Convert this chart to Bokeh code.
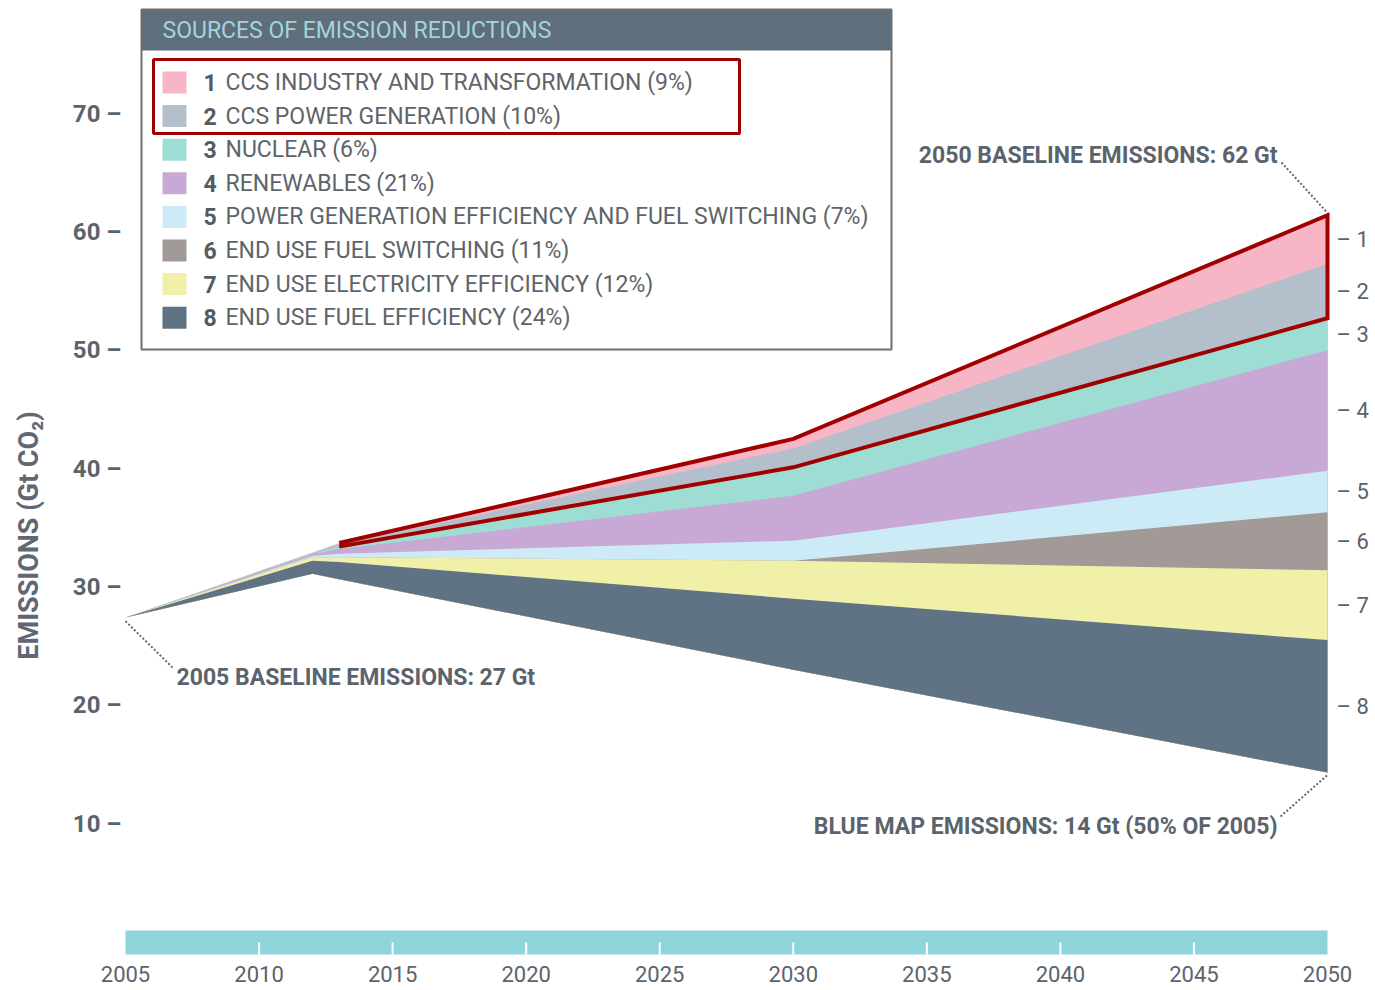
import numpy as np
from bokeh.plotting import figure
from bokeh.models import Range1d
from bokeh.core.properties import value
from bokeh.embed import file_html
from bokeh.resources import INLINE

# ---------------- data (Gt CO2) ----------------
years = [2005, 2012, 2013, 2030, 2050]
blue_map = [27.4, 31.1, 30.65, 23.0, 14.3]          # BLUE Map emissions (bottom of stack)
# reductions, stacked upward from BLUE Map emissions (wedge 8 at bottom ... wedge 1 on top)
w8_end_use_fuel_eff = [0, 1.1, 1.45, 6.0, 11.2]
w7_end_use_elec_eff = [0, 0.3, 0.4, 3.2, 5.9]
w6_end_use_fuel_switch = [0, 0, 0, 0, 4.9]
w5_power_gen_eff = [0, 0.1, 0.3, 1.7, 3.5]
w4_renewables = [0, 0.15, 0.4, 3.8, 10.2]
w3_nuclear = [0, 0.05, 0.2, 2.4, 2.7]
w2_ccs_power = [0, 0.05, 0.2, 1.6, 4.6]
w1_ccs_industry = [0, 0.05, 0.1, 0.8, 4.1]

legend_numbers = ["1", "2", "3", "4", "5", "6", "7", "8"]
legend_labels = [
    "CCS INDUSTRY AND TRANSFORMATION (9%)",
    "CCS POWER GENERATION (10%)",
    "NUCLEAR (6%)",
    "RENEWABLES (21%)",
    "POWER GENERATION EFFICIENCY AND FUEL SWITCHING (7%)",
    "END USE FUEL SWITCHING (11%)",
    "END USE ELECTRICITY EFFICIENCY (12%)",
    "END USE FUEL EFFICIENCY (24%)",
]
colors = ["#F7B6C6", "#B3BFCA", "#9DDDD3", "#C8A9D5", "#CDEBF6", "#A19A97", "#F1F0A9", "#5F7384"]

y_ticks = [10, 20, 30, 40, 50, 60, 70]
x_ticks = [2005, 2010, 2015, 2020, 2025, 2030, 2035, 2040, 2045, 2050]

# ---------------- layout helpers (page pixels -> data) ----------------
W, H = 1375, 990
PPY = (1327 - 125) / 45.0      # px per year
PPG = (823 - 113) / 60.0       # px per Gt

def dx(px):
    return 2005 + (px - 125) / PPY

def dy(py):
    return 70 - (py - 113) / PPG

p = figure(width=W, height=H, output_backend="svg", toolbar_location=None,
           x_range=Range1d(dx(0), dx(W)), y_range=Range1d(dy(H), dy(0)),
           x_axis_location=None, y_axis_location=None, min_border=0,
           outline_line_color=None, background_fill_color="white",
           border_fill_color="white")
p.xgrid.grid_line_color = None
p.ygrid.grid_line_color = None

FONT = value("Roboto")
TXT = "#5B636C"
FS = "23px"

# ---------------- stacked wedges ----------------
wedges_bottom_up = [w8_end_use_fuel_eff, w7_end_use_elec_eff, w6_end_use_fuel_switch,
                    w5_power_gen_eff, w4_renewables, w3_nuclear, w2_ccs_power, w1_ccs_industry]
base = np.array(blue_map, dtype=float)
cums = []
acc = base.copy()
for w in wedges_bottom_up:
    acc = acc + np.array(w, dtype=float)
    cums.append(acc.copy())
# draw from top wedge down so lower wedges overlap upper ones (no seams)
for k in range(7, -1, -1):
    p.varea(x=years, y1=base, y2=cums[k], fill_color=colors[7 - k], fill_alpha=1.0)

total = cums[7]
gray_bottom = cums[5]

# red outline around wedges 1 & 2 (from 2013 onward)
yr = np.array(years)
m = yr >= 2013
xs = list(yr[m]) + [2050] + list(yr[m][::-1])
ys = list(total[m]) + [gray_bottom[-1]] + list(gray_bottom[m][::-1])
p.line(xs, ys, line_color="#A00000", line_width=4, line_join="miter")

# right-side wedge numbers at 2050
lower_edges = [base] + cums[:-1]
mids = [(lower_edges[k][-1] + cums[k][-1]) / 2 for k in range(8)]
p.text(x=[dx(1336)] * 8, y=mids, text=["\u2013 " + legend_numbers[7 - k] for k in range(8)],
       text_font=FONT, text_font_size="22px", text_color=TXT,
       text_align="left", text_baseline="middle")

# ---------------- y axis ----------------
p.text(x=[dx(121)] * len(y_ticks), y=y_ticks, text=[f"{v} \u2013" for v in y_ticks],
       text_font=FONT, text_font_size="24px", text_font_style="bold", text_color=TXT,
       text_align="right", text_baseline="middle")
p.text(x=[dx(28)], y=[dy(535)], text=["EMISSIONS (Gt CO\u2082)"], angle=np.pi / 2,
       text_font=FONT, text_font_size="27px", text_font_style="bold", text_color="#5F6873",
       text_align="center", text_baseline="middle")

# ---------------- x axis bar ----------------
p.quad(left=[x_ticks[0]], right=[x_ticks[-1]], top=[dy(930)], bottom=[dy(954)],
       fill_color="#8ED5DA", line_color=None)
inner = x_ticks[1:-1]
p.segment(x0=inner, x1=inner, y0=[dy(942)] * len(inner), y1=[dy(954)] * len(inner),
          line_color="white", line_width=2)
p.text(x=x_ticks, y=[dy(973)] * len(x_ticks), text=[str(v) for v in x_ticks],
       text_font=FONT, text_font_size="22px", text_color=TXT,
       text_align="center", text_baseline="middle")

# ---------------- annotations ----------------
p.text(x=[dx(1277)], y=[dy(155)], text=["2050 BASELINE EMISSIONS: 62 Gt"],
       text_font=FONT, text_font_size=FS, text_font_style="bold", text_color=TXT,
       text_align="right", text_baseline="middle")
p.line([dx(1281), 2050], [dy(162), total[-1] + 0.2], line_color="#666666", line_width=2, line_dash="2 2")

p.text(x=[dx(176)], y=[dy(677)], text=["2005 BASELINE EMISSIONS: 27 Gt"],
       text_font=FONT, text_font_size=FS, text_font_style="bold", text_color=TXT,
       text_align="left", text_baseline="middle")
p.line([2005, dx(173)], [blue_map[0] - 0.3, dy(668)], line_color="#666666", line_width=2, line_dash="2 2")

p.text(x=[dx(1277)], y=[dy(826)], text=["BLUE MAP EMISSIONS: 14 Gt (50% OF 2005)"],
       text_font=FONT, text_font_size=FS, text_font_style="bold", text_color=TXT,
       text_align="right", text_baseline="middle")
p.line([dx(1280), 2050], [dy(816), blue_map[-1] - 0.2], line_color="#666666", line_width=2, line_dash="2 2")

# ---------------- legend box ----------------
p.quad(left=[dx(141)], right=[dx(891)], top=[dy(9)], bottom=[dy(50)],
       fill_color="#5E6E7B", line_color=None)
p.quad(left=[dx(141)], right=[dx(891)], top=[dy(9)], bottom=[dy(349)],
       fill_color=None, line_color="#6E6E6E", line_width=2)
p.text(x=[dx(162)], y=[dy(30)], text=["SOURCES OF EMISSION REDUCTIONS"],
       text_font=FONT, text_font_size=FS, text_color="#A4D4DA",
       text_align="left", text_baseline="middle")
rows = [dy(82 + i * 33.6) for i in range(8)]
p.quad(left=[dx(162)] * 8, right=[dx(186)] * 8,
       top=[r + 11 / PPG for r in rows], bottom=[r - 11 / PPG for r in rows],
       fill_color=colors, line_color=None)
p.text(x=[dx(203)] * 8, y=rows, text=legend_numbers,
       text_font=FONT, text_font_size=FS, text_font_style="bold", text_color="#545B62",
       text_align="left", text_baseline="middle")
p.text(x=[dx(225)] * 8, y=rows, text=legend_labels,
       text_font=FONT, text_font_size=FS, text_color="#5E646A",
       text_align="left", text_baseline="middle")
# red highlight box around items 1-2
p.quad(left=[dx(153)], right=[dx(739)], top=[dy(59)], bottom=[dy(133)],
       fill_color=None, line_color="#A00000", line_width=3)

open("out.html", "w").write(file_html(p, INLINE))
